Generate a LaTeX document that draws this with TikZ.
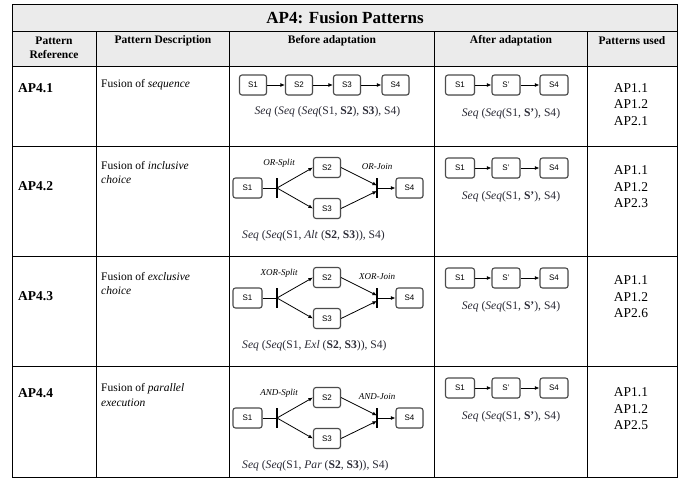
\documentclass[tikz,border=0pt]{standalone}
\usepackage{fontspec}
\setmainfont{Liberation Serif}
\newfontfamily\nodefont{Liberation Sans}
\usetikzlibrary{arrows.meta,calc,shadows}
\definecolor{hdrgray}{HTML}{EBEBEB}
\definecolor{frmcol}{HTML}{2A2A35}
\tikzset{
  sbox/.style={draw=black!70, line width=1.1pt, rounded corners=2.5pt, minimum width=27pt, minimum height=20pt, inner sep=0pt, fill=white, font=\nodefont\fontsize{8}{9}\selectfont, drop shadow={shadow xshift=0.6pt, shadow yshift=-0.6pt, opacity=0.3}},
  arr/.style={-{Latex[length=4.5pt,width=3.8pt]}, line width=0.8pt},
  plain/.style={line width=0.8pt},
  gbar/.style={line width=1.7pt},
  grid/.style={line width=0.8pt, draw=black},
  lbl/.style={inner sep=0pt, font=\itshape\fontsize{9}{10}\selectfont},
  frm/.style={inner sep=0pt, text=frmcol, font=\fontsize{11.6}{13}\selectfont},
  hdr/.style={inner sep=0pt, font=\bfseries\fontsize{11.5}{13}\selectfont},
  ref/.style={inner sep=0pt, anchor=west, font=\bfseries\fontsize{13.5}{15}\selectfont},
  desc/.style={inner sep=0pt, anchor=west, font=\fontsize{11.5}{13}\selectfont},
  used/.style={inner sep=0pt, align=center, font=\fontsize{13.5}{16.5}\selectfont},
}
\begin{document}
\begin{tikzpicture}[x=1pt,y=-1pt]
\useasboundingbox (0,0) rectangle (693,480);
% table background and grid
\fill[hdrgray] (12,4) rectangle (677,66);
\draw[grid] (12,4) rectangle (677,477);
\draw[grid] (12,31) -- (677,31);
\draw[grid] (12,66) -- (677,66);
\draw[grid] (12,146) -- (677,146);
\draw[grid] (12,256.5) -- (677,256.5);
\draw[grid] (12,366.5) -- (677,366.5);
\foreach \cx in {96,229,434,587} { \draw[grid] (\cx,31) -- (\cx,477); }
% title and headers
\node[inner sep=0pt, font=\bfseries\fontsize{17}{19}\selectfont] (title) at (345,17.5) {AP4: Fusion Patterns};
\node[hdr] (h1a) at (54,41) {Pattern};
\node[hdr] (h1b) at (54,55) {Reference};
\node[hdr] (h2) at (163,41) {Pattern Description};
\node[hdr] (h3) at (332,41) {Before adaptation};
\node[hdr] (h4) at (511,41) {After adaptation};
\node[hdr] (h5) at (632,41) {Patterns used};
% left columns
\node[ref] (ref1) at (18,88) {AP4.1};
\node[ref] (ref2) at (18,186) {AP4.2};
\node[ref] (ref3) at (18,296) {AP4.3};
\node[ref] (ref4) at (18,393) {AP4.4};
\node[desc] (d1) at (101,85) {Fusion of \textit{sequence}};
\node[desc] (d2a) at (101,166) {Fusion of \textit{inclusive}};
\node[desc] (d2b) at (101,180) {\textit{choice}};
\node[desc] (d3a) at (101,277) {Fusion of \textit{exclusive}};
\node[desc] (d3b) at (101,291) {\textit{choice}};
\node[desc] (d4a) at (101,389) {Fusion of \textit{parallel}};
\node[desc] (d4b) at (101,403) {\textit{execution}};
% patterns used
\node[used] (u1) at (631,104.5) {AP1.1\\AP1.2\\AP2.1};
\node[used] (u2) at (631,187) {AP1.1\\AP1.2\\AP2.3};
\node[used] (u3) at (631,297) {AP1.1\\AP1.2\\AP2.6};
\node[used] (u4) at (631,409) {AP1.1\\AP1.2\\AP2.5};
% ---------- Row 1 before
\node[sbox] (a1) at (253,85) {S1};
\node[sbox] (a2) at (299,85) {S2};
\node[sbox] (a3) at (347,85) {S3};
\node[sbox] (a4) at (395.5,85) {S4};
\draw[arr] (a1) -- (a2);
\draw[arr] (a2) -- (a3);
\draw[arr] (a3) -- (a4);
\node[frm] (fa) at (327.5,112) {\textit{Seq} (\textit{Seq} (\textit{Seq}(S1, \textbf{S2}), \textbf{S3}), S4)};
% ---------- After adaptation (rows 1-4)
\foreach \r/\yy in {1/85,2/168,3/278,4/388} {
  \node[sbox, minimum width=29pt] (p\r s1) at (460,\yy) {S1};
  \node[sbox, minimum width=28pt] (p\r sp) at (506,\yy) {S’};
  \node[sbox, minimum width=28pt] (p\r s4) at (554,\yy) {S4};
  \draw[arr] (p\r s1) -- (p\r sp);
  \draw[arr] (p\r sp) -- (p\r s4);
  \node[frm] (p\r f) at (511,\yy+28.5) {\textit{Seq} (\textit{Seq}(S1, \textbf{S’}), S4)};
}
% ---------- Rows 2-4 before
\foreach \r/\yy/\sp/\jn/\form in {
  2/188/OR-Split/OR-Join/{\textit{Seq} (\textit{Seq}(S1, \textit{Alt} (\textbf{S2}, \textbf{S3})), S4)},
  3/298/XOR-Split/XOR-Join/{\textit{Seq} (\textit{Seq}(S1, \textit{Exl} (\textbf{S2}, \textbf{S3})), S4)},
  4/418/AND-Split/AND-Join/{\textit{Seq} (\textit{Seq}(S1, \textit{Par} (\textbf{S2}, \textbf{S3})), S4)}} {
  \node[sbox, minimum width=29pt] (b\r s1) at (247.5,\yy) {S1};
  \node[sbox] (b\r s2) at (327,\yy-20.5) {S2};
  \node[sbox] (b\r s3) at (327,\yy+20.5) {S3};
  \node[sbox] (b\r s4) at (409.5,\yy) {S4};
  \coordinate (b\r sb) at (277,\yy);
  \coordinate (b\r jb) at (377,\yy);
  \draw[gbar] (277,\yy-10) -- (277,\yy+10);
  \draw[gbar] (377,\yy-10) -- (377,\yy+10);
  \draw[plain] (b\r s1) -- (b\r sb);
  \draw[arr] (b\r sb) -- (b\r s2.west);
  \draw[arr] (b\r sb) -- (b\r s3.west);
  \draw[arr] (b\r s2.east) -- ($(b\r jb)+(0,-2.5)$);
  \draw[arr] (b\r s3.east) -- ($(b\r jb)+(0,3)$);
  \draw[arr] (b\r jb) -- (b\r s4);
  \node[lbl] (b\r ls) at (279,\yy-24.5) {\sp};
  \node[lbl] (b\r lj) at (377,\yy-21) {\jn};
  \node[frm, anchor=west] (b\r f) at (242,\yy+48) {\form};
}
\end{tikzpicture}
\end{document}
